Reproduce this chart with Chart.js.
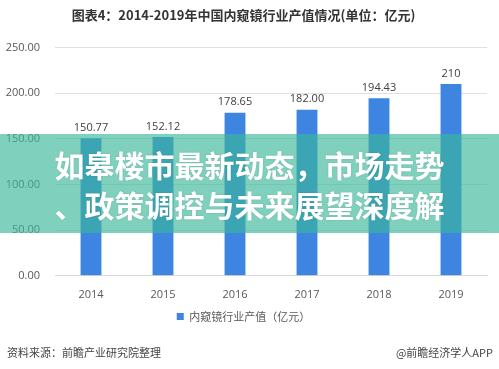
<!DOCTYPE html>
<html>
<head>
<meta charset="utf-8">
<script src="https://cdn.jsdelivr.net/npm/chart.js@4"></script>
<style>
  html, body { margin: 0; padding: 0; background: #fff; }
  #wrap { position: relative; width: 499px; height: 369px; overflow: hidden; }
  canvas { display: block; }
  .foot { position: absolute; top: 344px; font: 11px "Noto Sans CJK SC", sans-serif; color: #444; }
  #band {
    position: absolute; left: 0; top: 134px; width: 499px; height: 99px;
    background: rgba(60, 183, 155, 0.65);
    color: #fff; font: bold 30px/40px "Noto Sans CJK SC", sans-serif;
    text-align: center; box-sizing: border-box; padding-top: 10px;
    text-shadow: 0 0 2px rgba(0, 0, 0, 0.15);
  }
</style>
</head>
<body>
<div id="wrap">
  <canvas id="chart" width="499" height="369"></canvas>
  <div id="band">如皋楼市最新动态，市场走势<br>、政策调控与未来展望深度解</div>
  <div class="foot" style="left:7px">资料来源：前瞻产业研究院整理</div>
  <div class="foot" style="right:6px">@前瞻经济学人APP</div>
</div>
<script>
const YEARS = ['2014', '2015', '2016', '2017', '2018', '2019'];
const OUTPUT_VALUES = [150.77, 152.12, 178.65, 182.00, 194.43, 210];
const VALUE_LABELS = ['150.77', '152.12', '178.65', '182.00', '194.43', '210'];
const SERIES_NAME = '内窥镜行业产值（亿元）';
const TITLE = '图表4：2014-2019年中国内窥镜行业产值情况(单位：亿元)';

const FONT = '"Open Sans", "Noto Sans CJK SC", sans-serif';
const BAR_COLOR = '#3d85e0';

const valueLabels = {
  id: 'valueLabels',
  afterDatasetsDraw(chart) {
    const ctx = chart.ctx;
    const meta = chart.getDatasetMeta(0);
    ctx.save();
    ctx.font = `11px ${FONT}`;
    ctx.fillStyle = '#404040';
    ctx.textAlign = 'center';
    ctx.textBaseline = 'bottom';
    meta.data.forEach((bar, i) => {
      ctx.fillText(VALUE_LABELS[i], bar.x, bar.y - 5);
    });
    ctx.restore();
  }
};

new Chart(document.getElementById('chart'), {
  type: 'bar',
  data: {
    labels: YEARS,
    datasets: [{
      label: SERIES_NAME,
      data: OUTPUT_VALUES,
      backgroundColor: BAR_COLOR,
      barPercentage: 0.29,
      categoryPercentage: 1
    }]
  },
  options: {
    responsive: false,
    animation: false,
    devicePixelRatio: 1,
    layout: { padding: { top: 0, right: 12, bottom: 37, left: 0 } },
    plugins: {
      title: {
        display: true,
        text: TITLE,
        color: '#333',
        font: { size: 13, weight: 'bold', family: '"Noto Sans CJK SC", sans-serif' },
        padding: { top: 7, bottom: 25 }
      },
      legend: {
        position: 'bottom',
        labels: {
          color: '#595959',
          boxWidth: 7,
          boxHeight: 7,
          padding: 6,
          font: { size: 11, family: '"Noto Sans CJK SC", sans-serif' }
        }
      },
      tooltip: { enabled: false }
    },
    scales: {
      x: {
        grid: { display: false },
        border: { color: '#d9d9d9' },
        ticks: { color: '#595959', font: { size: 11, family: FONT }, padding: 4 }
      },
      y: {
        min: 0,
        max: 250,
        afterFit(scale) { scale.width = 55; },
        grid: { color: '#e0e0e0', drawTicks: false },
        border: { display: false },
        ticks: {
          stepSize: 50,
          color: '#595959',
          padding: 15,
          font: { size: 11, family: FONT },
          callback: (value) => value.toFixed(2)
        }
      }
    }
  },
  plugins: [valueLabels]
});
</script>
</body>
</html>
